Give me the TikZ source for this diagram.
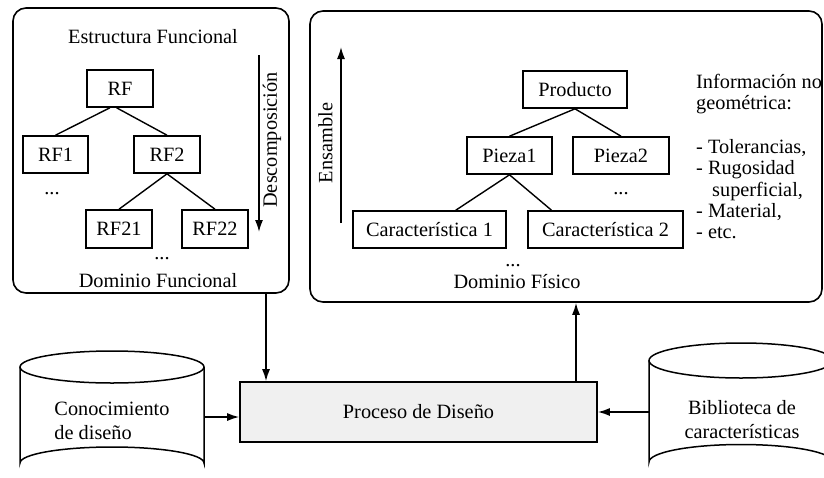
\documentclass[tikz,border=0pt]{standalone}
\usepackage{fontspec}
\setmainfont{Liberation Serif}
\usetikzlibrary{arrows.meta,calc}
\begin{document}
\begin{tikzpicture}[x=1pt,y=-1pt,
  every node/.style={font=\fontsize{20.3}{23.5}\selectfont, inner sep=0pt},
  item/.style={draw, line width=1.6pt, minimum height=37pt, anchor=center},
  panel/.style={draw, line width=1.6pt, rounded corners=13pt},
  link/.style={line width=1.4pt},
  flow/.style={line width=1.6pt, -{Latex[length=12pt,width=8pt]}},
  store/.style={draw, line width=1.5pt},
]
\useasboundingbox (0,0) rectangle (824,477);
\clip (0,0) rectangle (824,477);

% ---------- functional domain ----------
\node[panel, minimum width=276pt, minimum height=285pt] (fdom) at (151,150.5) {};
\node[anchor=base] (ftitle) at (153,43) {Estructura Funcional};
\node[item, minimum width=66pt] (rf)   at (120,88.5)  {RF};
\node[item, minimum width=65pt] (rfa)  at (55.5,154.5) {RF1};
\node[item, minimum width=66pt] (rfb)  at (167,154.5) {RF2};
\node[item, minimum width=66pt, minimum height=38pt] (rfba) at (119,229) {RF21};
\node[item, minimum width=66pt, minimum height=38pt] (rfbb) at (215,229) {RF22};
\node[anchor=base] (fdotsa) at (52,194) {...};
\node[anchor=base] (fdotsb) at (162,259) {...};
\node[anchor=base] (fname) at (158,287) {Dominio Funcional};
\draw[link] ($(rf.south west)!0.35!(rf.south east)$) -- (rfa.north);
\draw[link] ($(rf.south west)!0.45!(rf.south east)$) -- (rfb.north);
\draw[link] (rfb.south) -- (rfba.north);
\draw[link] (rfb.south) -- (rfbb.north);
\coordinate (dtop) at (259,55);
\coordinate (dbot) at (259,232);
\draw[flow] (dtop) -- (dbot);
\node[rotate=90] (descomp) at (272,140) {Descomposición};

% ---------- physical domain ----------
\node[panel, minimum width=512pt, minimum height=291pt] (pdom) at (566,156.5) {};
\node[item, minimum width=104pt] (prod) at (575,89.5)  {Producto};
\node[item, minimum width=85pt]  (pza)  at (509.5,155.5) {Pieza1};
\node[item, minimum width=96pt]  (pzb)  at (621,155.5) {Pieza2};
\node[item, minimum width=153pt] (cara) at (429.5,229.5) {Característica 1};
\node[item, minimum width=155pt] (carb) at (605.5,229.5) {Característica 2};
\node[anchor=base] (pdotsa) at (621,194) {...};
\node[anchor=base] (pdotsb) at (513,266) {...};
\node[anchor=base] (pname) at (517,288) {Dominio Físico};
\draw[link] (prod.south) -- (pza.north);
\draw[link] (prod.south) -- (pzb.north);
\draw[link] (pza.south) -- ($(cara.north west)!0.67!(cara.north east)$);
\draw[link] (pza.south) -- ($(carb.north west)!0.155!(carb.north east)$);
\coordinate (ebot) at (341,223);
\coordinate (etop) at (341,47);
\draw[flow] (ebot) -- (etop);
\node[rotate=90] (ensam) at (325.5,143) {Ensamble};
\node[align=left, anchor=north west, font=\fontsize{20.3}{21.4}\selectfont] (info) at (696,74)
  {Información no\\geométrica:\\[22pt]- Tolerancias,\\- Rugosidad\\\hspace*{16pt}superficial,\\- Material,\\- etc.};

% ---------- design process ----------
\node[draw, line width=1.6pt, fill=gray!12, minimum width=357pt, minimum height=60pt] (proc) at (418.5,412) {Proceso de Diseño};
\coordinate (dnx) at (266,0);
\coordinate (upx) at (576,0);
\draw[flow] (fdom.south -| dnx) -- (proc.north -| dnx);
\draw[flow] (proc.north -| upx) -- (pdom.south -| upx);

% knowledge store (left cylinder)
\draw[store] (20,367) -- (20,463) arc[start angle=180, end angle=360, x radius=92, y radius=16] -- (204,367);
\draw[store] (112,367) ellipse [x radius=92, y radius=16];
\coordinate (kbout) at (204,417);
\node[align=left] (kb) at (112,421) {Conocimiento\\de diseño};
\draw[flow] (kbout) -- (kbout -| proc.west);

% feature library (right cylinder)
\draw[store] (649,360.5) -- (649,462) arc[start angle=180, end angle=360, x radius=92, y radius=17.5] -- (833,360.5);
\draw[store] (741,360.5) ellipse [x radius=92, y radius=17.5];
\coordinate (libout) at (649,412);
\node[align=center] (lib) at (742,419.5) {Biblioteca de\\características};
\draw[flow] (libout) -- (libout -| proc.east);
\end{tikzpicture}
\end{document}
